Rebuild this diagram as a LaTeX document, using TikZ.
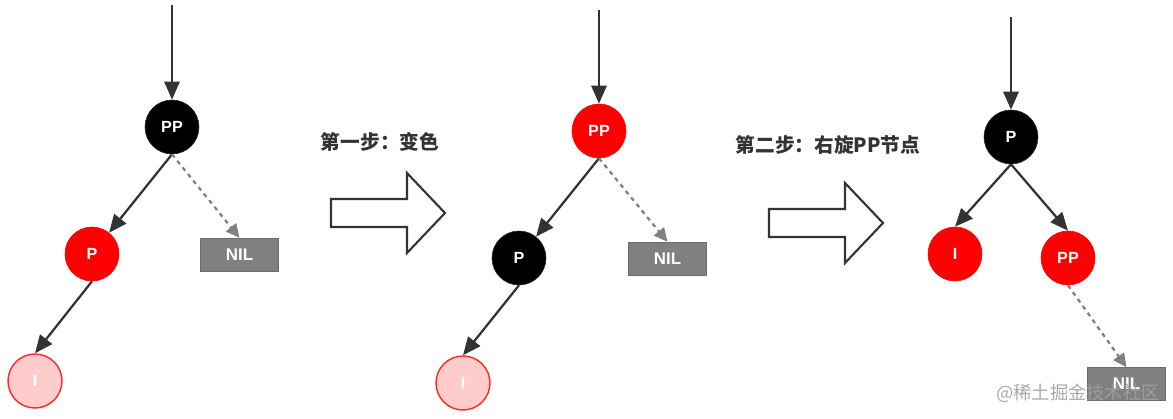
\documentclass[tikz,border=0pt]{standalone}
\usepackage{fontspec}
\setmainfont{Liberation Sans}
\newfontfamily\cjk{Noto Sans CJK SC}
\usetikzlibrary{arrows.meta}
\definecolor{rbred}{HTML}{FF0000}
\definecolor{rbpink}{HTML}{FFCCCC}
\definecolor{nilgray}{HTML}{808080}
\definecolor{edgegray}{HTML}{333333}
\tikzset{rbnode/.style={circle, minimum size=1.35cm, inner sep=0pt, text=white, font=\bfseries\fontsize{11.5}{13}\selectfont},
  blacknode/.style={rbnode, fill=black, draw=black!85},
  rednode/.style={rbnode, fill=rbred, draw=rbred},
  newnode/.style={rbnode, fill=rbpink, draw=rbred!85!white, line width=1pt},
  nilbox/.style={rectangle, fill=nilgray, draw=nilgray!85!black, minimum width=1.95cm, minimum height=0.82cm, inner sep=0pt, text=white, font=\bfseries\fontsize{12}{14}\selectfont},
  edge/.style={draw=edgegray, line width=1.6pt, -{Triangle[length=0.45cm, width=0.38cm]}},
  niledge/.style={draw=nilgray, line width=1.6pt, dash pattern=on 3pt off 3pt, -{Triangle[length=0.34cm, width=0.32cm]}},
  bigarrow/.style={draw=edgegray, line width=1.5pt, fill=white, line join=miter},
  steplabel/.style={font=\cjk\bfseries\fontsize{14}{16}\selectfont, text=edgegray}}

\begin{document}
\begin{tikzpicture}[x=0.025cm, y=-0.025cm]
\useasboundingbox (0,0) rectangle (1173,419);
% before
\coordinate (top1) at (172,5);
\node[blacknode] (pp1) at (172,127) {PP};
\node[rednode] (p1) at (92,254) {P};
\node[newnode] (i1) at (35,381) {I};
\node[nilbox] (nil1) at (239.5,254.5) {NIL};
\draw[edge] (top1) -- (pp1);
\draw[edge] (pp1.south) -- (p1);
\draw[edge] (p1.south) -- (i1.north);
\draw[niledge] (pp1.south) -- (nil1.north);
% step arrows
\foreach \x/\y in {331/213, 769/223}{
    \draw[bigarrow] (\x,\y-14) -- ++(76,0) -- ++(0,-26) -- ++(38,40)
      -- ++(-38,40) -- ++(0,-26) -- ++(-76,0) -- cycle;
}
\node[steplabel] (step1) at (380,142) {第一步：变色};
\node[steplabel] (step2) at (828,145) {第二步：右旋PP节点};
% recolored
\coordinate (top2) at (599,10);
\node[rednode] (pp2) at (599,131) {PP};
\node[blacknode] (p2) at (519,258) {P};
\node[newnode] (i2) at (463,383) {I};
\node[nilbox] (nil2) at (667.5,258.5) {NIL};
\draw[edge] (top2) -- (pp2);
\draw[edge] (pp2.south) -- (p2);
\draw[edge] (p2.south) -- (i2.north);
\draw[niledge] (pp2.south) -- (nil2.north);
% rotated
\coordinate (top3) at (1011,17);
\node[blacknode] (p3) at (1011,137) {P};
\node[rednode] (i3) at (955,254) {I};
\node[rednode] (pp3) at (1068,258) {PP};
\node[nilbox] (nil3) at (1126.5,384) {NIL};
\draw[edge] (top3) -- (p3);
\draw[edge] (p3.south) -- (i3.north);
\draw[edge] (p3.south) -- (pp3.north);
\draw[niledge] (pp3.south) -- (nil3.north);
\node[font=\cjk\fontsize{13}{15}\selectfont, text=gray!75, opacity=0.9] (mark) at (1078,393) {@稀土掘金技术社区};
\end{tikzpicture}
\end{document}
